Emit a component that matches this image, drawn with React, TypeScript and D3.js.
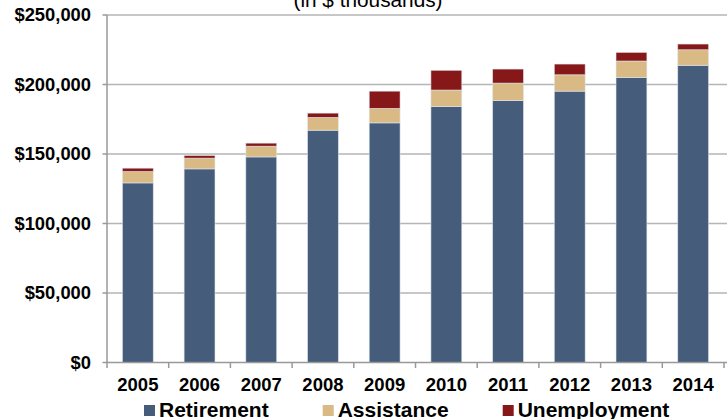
import React from "react";
import * as d3 from "d3";

const years = ["2005", "2006", "2007", "2008", "2009", "2010", "2011", "2012", "2013", "2014"];
const retirement = [129200, 139300, 147900, 167100, 172400, 184200, 188500, 195200, 205100, 213800];
const assistance = [8200, 7700, 7700, 9200, 10400, 11800, 12500, 11800, 11800, 11200];
const unemployment = [2400, 1900, 2200, 3100, 12400, 14200, 10100, 7700, 6200, 4100];
const seriesNames = ["Retirement", "Assistance", "Unemployment"];
const seriesColors = ["#455c7b", "#d9ba84", "#871819"];
const yTicks = [0, 50000, 100000, 150000, 200000, 250000];
const title = "(in $ thousands)";

const W = 727;
const H = 419;
const left = 107;
const right = 724;
const top = 15;
const bottom = 362.5;

export default function App() {
  const rows = years.map((y, i) => ({
    year: y,
    Retirement: retirement[i],
    Assistance: assistance[i],
    Unemployment: unemployment[i],
  }));
  const stacked = d3.stack<any>().keys(seriesNames)(rows);
  const x = d3.scaleBand<string>().domain(years).range([left, right]).paddingInner(0.5).paddingOuter(0.25);
  const y = d3.scaleLinear().domain([0, 250000]).range([bottom, top]);
  const step = x.step();
  const fmt = (v: number) => "$" + d3.format(",")(v);
  const font = "'Liberation Sans', Arial, sans-serif";

  const legendX = [144, 322.7, 502.7];

  return (
    <svg width={W} height={H} style={{ position: "absolute", left: 0, top: 0, background: "#fff" }} fontFamily={font}>
      <text transform="translate(368,6.5) scale(1.04,1)" textAnchor="middle" fontSize={20}>
        {title}
      </text>
      {yTicks.map((t) => (
        <g key={t}>
          {t > 0 && <line x1={left} x2={W} y1={y(t)} y2={y(t)} stroke="#b5b5b5" strokeWidth={1.5} />}
          <line x1={102.5} x2={left} y1={y(t)} y2={y(t)} stroke="#999" strokeWidth={1.5} />
          <text
            transform={`translate(91,${y(t)}) scale(1.02,1)`}
            textAnchor="end"
            dy="0.36em"
            fontSize={18}
            fontWeight="bold"
          >
            {fmt(t)}
          </text>
        </g>
      ))}
      {stacked.map((s, si) => (
        <g key={s.key} fill={seriesColors[si]}>
          {s.map((d, i) => (
            <rect
              key={i}
              x={x(years[i])!}
              width={x.bandwidth()}
              y={y(d[1])}
              height={y(d[0]) - y(d[1])}
              stroke="rgba(225,232,242,0.7)"
              strokeWidth={0.8}
            />
          ))}
        </g>
      ))}
      <line x1={left} x2={left} y1={top} y2={bottom} stroke="#999" strokeWidth={1.5} />
      <line x1={left} x2={W} y1={bottom} y2={bottom} stroke="#999" strokeWidth={1.5} />
      {d3.range(years.length + 1).map((i) => (
        <line key={i} x1={left + i * step} x2={left + i * step} y1={bottom} y2={bottom + 5.5} stroke="#999" strokeWidth={1.5} />
      ))}
      {years.map((yr) => (
        <text
          key={yr}
          transform={`translate(${x(yr)! + x.bandwidth() / 2},391) scale(1,1)`}
          textAnchor="middle"
          fontSize={18.5}
          fontWeight="bold"
        >
          {yr}
        </text>
      ))}
      {seriesNames.map((n, i) => (
        <g key={n}>
          <rect x={legendX[i]} y={405} width={11} height={11} fill={seriesColors[i]} />
          <text transform={`translate(${legendX[i] + 15},416.5) scale(1.05,1)`} fontSize={20} fontWeight="bold">
            {n}
          </text>
        </g>
      ))}
    </svg>
  );
}
